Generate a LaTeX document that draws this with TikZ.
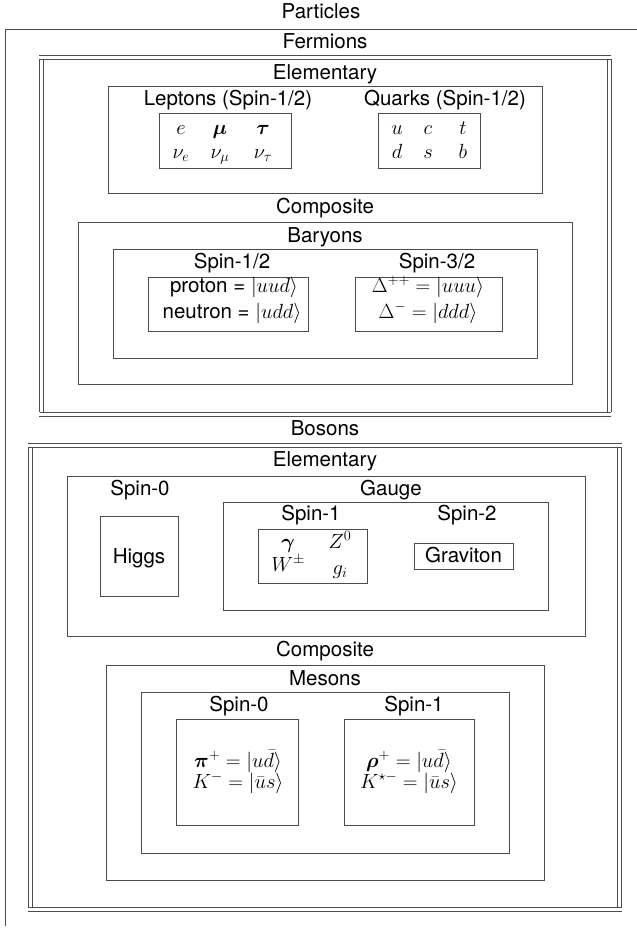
\RequirePackage{fix-cm}
\documentclass[tikz,border=0pt]{standalone}
\usepackage{bm}
\usepackage{fontspec}
\newfontfamily\helv{TeX Gyre Heros}
\usetikzlibrary{fit}
\definecolor{ink}{gray}{0.3}

\begin{document}
\begin{tikzpicture}[x=1pt,y=-1pt,
  rule/.style={draw=ink, line width=0.7pt},
  frame/.style={rule, inner sep=0pt, outer sep=0pt},
  lbl/.style={anchor=base, inner sep=0pt, font=\helv\fontsize{20.5}{24}\selectfont},
  sym/.style={anchor=base, inner sep=0pt, font=\fontsize{20.5}{24}\selectfont}]

\useasboundingbox (0,0) rectangle (637,937);

% ---------- Particles ----------
\node[lbl] (particles) at (321,18.5) {Particles};
\draw[rule] (637,29) -- (5,29) -- (5,926);

% ---------- Fermions ----------
\node[lbl] (fermions) at (325,48.5) {Fermions};
\draw[rule] (39,55) -- (611,55);
\draw[rule] (39,59) -- (611,59);
\draw[rule] (39.5,59) -- (39.5,412);
\draw[rule] (43,59) -- (43,412);
\draw[rule] (607,59) -- (607,412);
\draw[rule] (611,59) -- (611,412);
\draw[rule] (39.5,412) -- (611,412);
\draw[rule] (39,416) -- (611,416);

\node[lbl] (fElemT) at (325,79) {Elementary};
\node[frame, fit={(108,86) (542,193)}] (fElem) {};
\node[lbl] (leptT) at (228,105) {Leptons (Spin-1/2)};
\node[lbl] (quarkT) at (445,105) {Quarks (Spin-1/2)};
\node[frame, fit={(159,113) (291,168)}] (leptBox) {};
\node[frame, fit={(378,113) (480,168)}] (quarkBox) {};

\node[sym] (le) at (181,134) {$e$};
\node[sym] (lmu) at (220,134) {$\bm{\mu}$};
\node[sym] (ltau) at (263,134) {$\bm{\tau}$};
\node[sym] (lne) at (181,158) {$\nu_e$};
\node[sym] (lnmu) at (220,158) {$\nu_\mu$};
\node[sym] (lntau) at (263,158) {$\nu_\tau$};

\node[sym] (qu) at (397,134) {$u$};
\node[sym] (qc) at (428,134) {$c$};
\node[sym] (qt) at (463,134) {$t$};
\node[sym] (qd) at (397,158) {$d$};
\node[sym] (qs) at (428,158) {$s$};
\node[sym] (qb) at (463,158) {$b$};

\node[lbl] (fCompT) at (325,213) {Composite};
\node[frame, fit={(78,222) (572,384)}] (baryOut) {};
\node[lbl] (baryT) at (325,242) {Baryons};
\node[frame, fit={(113,249) (537,358)}] (baryIn) {};
\node[lbl] (bHalfT) at (232,268) {Spin-1/2};
\node[lbl] (bThreeT) at (437,268) {Spin-3/2};
\node[frame, fit={(148,277) (308,331)}] (bHalfBox) {};
\node[frame, fit={(355,277) (502,331)}] (bThreeBox) {};
\node[lbl] (proton) at (234,292) {proton = $|uud\rangle$};
\node[lbl] (neutron) at (232,318) {neutron = $|udd\rangle$};
\node[sym] (dpp) at (428,292) {$\Delta^{++}=|uuu\rangle$};
\node[sym] (dm) at (428,318) {$\Delta^{-}=|ddd\rangle$};

% ---------- Bosons ----------
\node[lbl] (bosons) at (325,435) {Bosons};
\draw[rule] (28,443) -- (622,443);
\draw[rule] (28,447) -- (622,447);
\draw[rule] (28.3,447) -- (28.3,907);
\draw[rule] (32.3,447) -- (32.3,907);
\draw[rule] (617.7,447) -- (617.7,907);
\draw[rule] (621.7,447) -- (621.7,907);
\draw[rule] (28.3,907) -- (621.7,907);
\draw[rule] (28,911.5) -- (622,911.5);

\node[lbl] (bElemT) at (325,466) {Elementary};
\node[frame, fit={(67,476) (585,636)}] (bElem) {};
\node[lbl] (s0T) at (140,495) {Spin-0};
\node[lbl] (gaugeT) at (391,495) {Gauge};
\node[frame, fit={(100,516) (178,596)}] (higgsBox) {};
\node[lbl] (higgs) at (139,563) {Higgs};
\node[frame, fit={(223,502) (548,610)}] (gaugeBox) {};
\node[lbl] (s1T) at (311,520) {Spin-1};
\node[lbl] (s2T) at (467,520) {Spin-2};
\node[frame, fit={(258,529) (367,583)}] (s1Box) {};
\node[sym] (gam) at (288,548) {$\bm{\gamma}$};
\node[sym] (zz) at (340,548) {$Z^0$};
\node[sym] (ww) at (288,571) {$W^{\pm}$};
\node[sym] (gl) at (340,574) {$g_i$};
\node[frame, fit={(414,543) (513,569)}] (gravBox) {};
\node[lbl] (grav) at (463.5,562) {Graviton};

\node[lbl] (bCompT) at (325,656) {Composite};
\node[frame, fit={(106,665) (544,880)}] (mesOut) {};
\node[lbl] (mesT) at (325,685) {Mesons};
\node[frame, fit={(141,692) (509,853)}] (mesIn) {};
\node[lbl] (m0T) at (239,711) {Spin-0};
\node[lbl] (m1T) at (414,711) {Spin-1};
\node[frame, fit={(176,719) (298,825)}] (m0Box) {};
\node[frame, fit={(344,719) (474,825)}] (m1Box) {};
\node[sym] (pion) at (238,767) {$\bm{\pi}^{+}=|u\bar{d}\rangle$};
\node[sym] (kaon) at (238,788) {$K^{-}=|\bar{u}s\rangle$};
\node[sym] (rho) at (409,767) {$\bm{\rho}^{+}=|u\bar{d}\rangle$};
\node[sym] (kstar) at (409,788) {$K^{\star-}=|\bar{u}s\rangle$};

\end{tikzpicture}
\end{document}
